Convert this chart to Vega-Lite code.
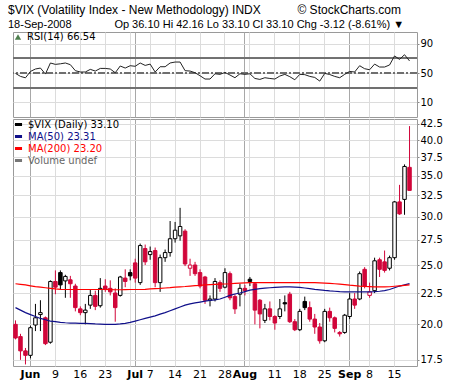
{
  "$schema": "https://vega.github.io/schema/vega-lite/v6.json",
  "padding": {"left": 8, "top": 3, "right": 2, "bottom": 0},
  "background": "white",
  "title": {
    "text": "$VIX (Volatility Index - New Methodology) INDX\u00a0\u00a0\u00a0\u00a0\u00a0\u00a0\u00a0\u00a0\u00a0\u00a0 © StockCharts.com",
    "subtitle": "18-Sep-2008\u00a0\u00a0\u00a0\u00a0\u00a0\u00a0\u00a0\u00a0\u00a0\u00a0\u00a0\u00a0\u00a0 Op 36.10 Hi 42.16 Lo 33.10 Cl 33.10 Chg -3.12 (-8.61%) ▼",
    "anchor": "start",
    "font": "Liberation Sans",
    "fontSize": 12,
    "fontWeight": "normal",
    "subtitleFont": "Liberation Sans",
    "subtitleFontSize": 11,
    "subtitleColor": "black",
    "subtitlePadding": 2,
    "offset": 1,
    "dx": -4
  },
  "data": {"values": [
    {"d":"2008-05-28","o":20.0,"h":20.3,"l":18.9,"c":19.0,"m50":21.3,"m200":23.3,"rsi":49.5},
    {"d":"2008-05-29","o":19.1,"h":19.3,"l":17.5,"c":18.1,"m50":21.1,"m200":23.25,"rsi":45.4},
    {"d":"2008-05-30","o":18.1,"h":18.3,"l":17.2,"c":17.8,"m50":20.9,"m200":23.2,"rsi":43.5},
    {"d":"2008-06-02","o":17.8,"h":19.9,"l":17.6,"c":19.75,"m50":20.75,"m200":23.12,"rsi":52.2},
    {"d":"2008-06-03","o":19.95,"h":21.6,"l":19.5,"c":20.5,"m50":20.6,"m200":23.05,"rsi":55.5},
    {"d":"2008-06-04","o":20.75,"h":21.9,"l":19.5,"c":20.9,"m50":20.45,"m200":23.0,"rsi":56.8},
    {"d":"2008-06-05","o":20.5,"h":20.6,"l":18.5,"c":18.6,"m50":20.35,"m200":22.95,"rsi":48.6},
    {"d":"2008-06-06","o":18.7,"h":23.6,"l":18.6,"c":23.5,"m50":20.25,"m200":22.9,"rsi":63.7},
    {"d":"2008-06-09","o":23.5,"h":24.5,"l":22.4,"c":23.0,"m50":20.2,"m200":22.85,"rsi":61.8},
    {"d":"2008-06-10","o":24.3,"h":24.5,"l":22.8,"c":23.2,"m50":20.15,"m200":22.82,"rsi":62.6},
    {"d":"2008-06-11","o":23.55,"h":24.1,"l":22.1,"c":23.95,"m50":20.12,"m200":22.8,"rsi":63.7},
    {"d":"2008-06-12","o":23.65,"h":24.0,"l":22.1,"c":23.3,"m50":20.1,"m200":22.8,"rsi":61.4},
    {"d":"2008-06-13","o":23.1,"h":23.3,"l":21.0,"c":21.3,"m50":20.1,"m200":22.8,"rsi":53.2},
    {"d":"2008-06-16","o":21.2,"h":21.4,"l":20.7,"c":20.9,"m50":20.08,"m200":22.8,"rsi":51.4},
    {"d":"2008-06-17","o":20.9,"h":21.6,"l":20.0,"c":21.1,"m50":20.07,"m200":22.8,"rsi":51.4},
    {"d":"2008-06-18","o":21.5,"h":22.8,"l":21.2,"c":22.3,"m50":20.05,"m200":22.8,"rsi":55.0},
    {"d":"2008-06-19","o":22.3,"h":22.7,"l":21.1,"c":21.4,"m50":20.03,"m200":22.8,"rsi":52.7},
    {"d":"2008-06-20","o":21.45,"h":23.8,"l":21.3,"c":22.9,"m50":20.02,"m200":22.8,"rsi":56.3},
    {"d":"2008-06-23","o":23.1,"h":23.7,"l":22.6,"c":22.8,"m50":20.0,"m200":22.8,"rsi":56.3},
    {"d":"2008-06-24","o":22.9,"h":23.6,"l":22.3,"c":22.6,"m50":20.0,"m200":22.79,"rsi":55.5},
    {"d":"2008-06-25","o":22.5,"h":22.9,"l":20.2,"c":21.3,"m50":20.0,"m200":22.78,"rsi":50.4},
    {"d":"2008-06-26","o":22.3,"h":24.0,"l":22.2,"c":23.9,"m50":20.03,"m200":22.78,"rsi":59.6},
    {"d":"2008-06-27","o":23.8,"h":24.6,"l":23.0,"c":23.5,"m50":20.08,"m200":22.79,"rsi":56.8},
    {"d":"2008-06-30","o":24.3,"h":24.6,"l":23.6,"c":24.0,"m50":20.15,"m200":22.8,"rsi":60.0},
    {"d":"2008-07-01","o":25.2,"h":25.6,"l":23.4,"c":23.8,"m50":20.25,"m200":22.8,"rsi":59.2},
    {"d":"2008-07-02","o":23.4,"h":27.1,"l":23.2,"c":26.9,"m50":20.35,"m200":22.8,"rsi":63.7},
    {"d":"2008-07-03","o":26.6,"h":27.0,"l":25.0,"c":25.3,"m50":20.45,"m200":22.82,"rsi":60.4},
    {"d":"2008-07-07","o":26.0,"h":26.8,"l":25.5,"c":26.3,"m50":20.55,"m200":22.85,"rsi":62.2},
    {"d":"2008-07-08","o":26.4,"h":26.7,"l":23.0,"c":23.4,"m50":20.65,"m200":22.88,"rsi":51.4},
    {"d":"2008-07-09","o":23.4,"h":26.0,"l":22.6,"c":25.7,"m50":20.78,"m200":22.9,"rsi":58.6},
    {"d":"2008-07-10","o":25.7,"h":26.5,"l":25.3,"c":26.2,"m50":20.9,"m200":22.93,"rsi":58.6},
    {"d":"2008-07-11","o":26.2,"h":29.5,"l":25.8,"c":27.6,"m50":21.05,"m200":22.96,"rsi":63.7},
    {"d":"2008-07-14","o":27.6,"h":29.4,"l":27.2,"c":28.5,"m50":21.2,"m200":23.0,"rsi":65.0},
    {"d":"2008-07-15","o":27.9,"h":31.0,"l":27.4,"c":28.9,"m50":21.35,"m200":23.03,"rsi":65.0},
    {"d":"2008-07-16","o":28.4,"h":28.6,"l":24.9,"c":25.1,"m50":21.5,"m200":23.06,"rsi":53.2},
    {"d":"2008-07-17","o":24.7,"h":25.6,"l":24.0,"c":25.0,"m50":21.6,"m200":23.1,"rsi":52.7},
    {"d":"2008-07-18","o":25.0,"h":25.3,"l":24.0,"c":24.2,"m50":21.68,"m200":23.13,"rsi":50.4},
    {"d":"2008-07-21","o":24.3,"h":24.6,"l":22.9,"c":23.1,"m50":21.75,"m200":23.16,"rsi":46.3},
    {"d":"2008-07-22","o":23.9,"h":24.0,"l":21.6,"c":21.9,"m50":21.82,"m200":23.2,"rsi":41.8},
    {"d":"2008-07-23","o":21.9,"h":22.3,"l":21.4,"c":22.0,"m50":21.88,"m200":23.22,"rsi":41.8},
    {"d":"2008-07-24","o":22.0,"h":23.8,"l":21.8,"c":23.5,"m50":21.93,"m200":23.24,"rsi":49.0},
    {"d":"2008-07-25","o":23.4,"h":23.6,"l":22.6,"c":22.9,"m50":22.0,"m200":23.26,"rsi":48.2},
    {"d":"2008-07-28","o":23.0,"h":24.7,"l":22.9,"c":24.3,"m50":22.15,"m200":23.28,"rsi":50.8},
    {"d":"2008-07-29","o":24.2,"h":24.4,"l":21.9,"c":22.1,"m50":22.3,"m200":23.3,"rsi":47.3},
    {"d":"2008-07-30","o":22.2,"h":22.4,"l":20.8,"c":21.2,"m50":22.42,"m200":23.33,"rsi":43.6},
    {"d":"2008-07-31","o":22.4,"h":23.3,"l":21.4,"c":22.9,"m50":22.5,"m200":23.36,"rsi":49.0},
    {"d":"2008-08-01","o":22.9,"h":23.2,"l":22.3,"c":22.7,"m50":22.62,"m200":23.38,"rsi":48.2},
    {"d":"2008-08-04","o":23.7,"h":23.9,"l":23.1,"c":23.5,"m50":22.75,"m200":23.4,"rsi":49.0},
    {"d":"2008-08-05","o":23.3,"h":23.4,"l":20.0,"c":21.1,"m50":22.82,"m200":23.4,"rsi":42.6},
    {"d":"2008-08-06","o":21.9,"h":22.0,"l":19.7,"c":20.8,"m50":22.88,"m200":23.4,"rsi":41.3},
    {"d":"2008-08-07","o":20.3,"h":21.6,"l":20.1,"c":21.2,"m50":22.92,"m200":23.4,"rsi":43.6},
    {"d":"2008-08-08","o":21.2,"h":21.8,"l":20.3,"c":20.6,"m50":22.95,"m200":23.4,"rsi":42.6},
    {"d":"2008-08-11","o":20.6,"h":20.7,"l":19.6,"c":20.1,"m50":22.98,"m200":23.4,"rsi":41.8},
    {"d":"2008-08-12","o":20.6,"h":22.0,"l":20.4,"c":21.2,"m50":23.0,"m200":23.4,"rsi":45.9},
    {"d":"2008-08-13","o":21.7,"h":22.3,"l":21.0,"c":21.6,"m50":23.02,"m200":23.4,"rsi":48.2},
    {"d":"2008-08-14","o":22.4,"h":22.6,"l":20.1,"c":20.2,"m50":23.02,"m200":23.4,"rsi":45.0},
    {"d":"2008-08-15","o":20.2,"h":20.4,"l":19.5,"c":19.6,"m50":23.0,"m200":23.4,"rsi":40.8},
    {"d":"2008-08-18","o":19.6,"h":21.2,"l":19.5,"c":21.0,"m50":22.98,"m200":23.4,"rsi":48.2},
    {"d":"2008-08-19","o":21.8,"h":22.2,"l":21.1,"c":21.3,"m50":22.93,"m200":23.4,"rsi":47.8},
    {"d":"2008-08-20","o":21.3,"h":21.8,"l":20.2,"c":20.4,"m50":22.88,"m200":23.4,"rsi":45.4},
    {"d":"2008-08-21","o":20.4,"h":20.8,"l":19.3,"c":19.8,"m50":22.82,"m200":23.4,"rsi":44.0},
    {"d":"2008-08-22","o":19.8,"h":20.1,"l":18.6,"c":18.8,"m50":22.77,"m200":23.38,"rsi":39.0},
    {"d":"2008-08-25","o":18.8,"h":21.2,"l":18.7,"c":21.0,"m50":22.72,"m200":23.36,"rsi":49.5},
    {"d":"2008-08-26","o":21.0,"h":21.3,"l":20.2,"c":20.5,"m50":22.68,"m200":23.33,"rsi":48.0},
    {"d":"2008-08-27","o":20.5,"h":20.6,"l":19.4,"c":19.7,"m50":22.65,"m200":23.3,"rsi":45.4},
    {"d":"2008-08-28","o":19.4,"h":19.5,"l":19.1,"c":19.3,"m50":22.62,"m200":23.27,"rsi":43.6},
    {"d":"2008-08-29","o":19.4,"h":20.8,"l":19.3,"c":20.7,"m50":22.6,"m200":23.23,"rsi":48.2},
    {"d":"2008-09-02","o":20.6,"h":22.5,"l":20.4,"c":22.0,"m50":22.6,"m200":23.18,"rsi":52.2},
    {"d":"2008-09-03","o":22.0,"h":22.5,"l":21.2,"c":21.5,"m50":22.6,"m200":23.14,"rsi":51.4},
    {"d":"2008-09-04","o":22.0,"h":24.4,"l":21.9,"c":24.2,"m50":22.6,"m200":23.1,"rsi":60.0},
    {"d":"2008-09-05","o":24.6,"h":24.8,"l":22.9,"c":23.1,"m50":22.6,"m200":23.07,"rsi":55.9},
    {"d":"2008-09-08","o":22.3,"h":23.4,"l":22.1,"c":22.6,"m50":22.6,"m200":23.05,"rsi":54.5},
    {"d":"2008-09-09","o":22.7,"h":25.7,"l":22.5,"c":25.4,"m50":22.62,"m200":23.03,"rsi":62.2},
    {"d":"2008-09-10","o":25.5,"h":25.7,"l":23.9,"c":24.6,"m50":22.65,"m200":23.02,"rsi":58.2},
    {"d":"2008-09-11","o":25.3,"h":26.4,"l":24.3,"c":24.5,"m50":22.7,"m200":23.02,"rsi":58.2},
    {"d":"2008-09-12","o":24.7,"h":25.9,"l":24.5,"c":25.7,"m50":22.8,"m200":23.04,"rsi":61.0},
    {"d":"2008-09-15","o":25.7,"h":31.8,"l":25.5,"c":31.7,"m50":22.95,"m200":23.08,"rsi":73.3},
    {"d":"2008-09-16","o":31.7,"h":33.8,"l":30.2,"c":30.3,"m50":23.1,"m200":23.12,"rsi":68.6},
    {"d":"2008-09-17","o":32.0,"h":36.5,"l":30.2,"c":36.22,"m50":23.2,"m200":23.16,"rsi":75.0},
    {"d":"2008-09-18","o":36.1,"h":42.16,"l":33.1,"c":33.1,"m50":23.31,"m200":23.2,"rsi":66.54}
  ]},
  "spacing": 0,
  "resolve": {"scale": {"x": "shared", "y": "independent", "color": "independent"}},
  "vconcat": [
    {
      "width": 404,
      "height": 85,
      "layer": [
        {"mark": {"type": "rule", "color": "#707070", "strokeWidth": 1}, "encoding": {"y": {"datum": 70, "type": "quantitative"}}},
        {"mark": {"type": "rule", "color": "#707070", "strokeWidth": 1}, "encoding": {"y": {"datum": 30, "type": "quantitative"}}},
        {"mark": {"type": "rule", "color": "#707070", "strokeWidth": 1, "strokeDash": [7, 2, 2, 2]}, "encoding": {"y": {"datum": 50, "type": "quantitative"}}},
        {
          "mark": {"type": "line", "color": "#222222", "strokeWidth": 1},
          "encoding": {
            "x": {
              "field": "d", "type": "ordinal",
              "scale": {"paddingInner": 0, "paddingOuter": 0.5, "align": 0},
              "axis": {
                "values": ["2008-06-02","2008-06-09","2008-06-16","2008-06-23","2008-06-30","2008-07-01","2008-07-07","2008-07-14","2008-07-21","2008-07-28","2008-08-01","2008-08-04","2008-08-11","2008-08-18","2008-08-25","2008-09-02","2008-09-08","2008-09-15"],
                "labels": false, "ticks": false, "domain": false, "title": null,
                "grid": true, "bandPosition": 0.5,
                "gridColor": {"condition": {"test": "indexof(['2008-06-02','2008-07-01','2008-08-01','2008-09-02'], datum.value) >= 0", "value": "#a8a8a8"}, "value": "#dcdcdc"}
              }
            },
            "y": {
              "field": "rsi", "type": "quantitative",
              "scale": {"domain": [-10, 106], "nice": false, "zero": false},
              "axis": {"orient": "right", "values": [10, 30, 50, 70, 90], "title": null, "grid": true, "gridColor": "#dcdcdc", "domain": false, "tickSize": 2, "tickColor": "#888888", "labelFontSize": 10, "labelPadding": 1}
            }
          }
        },
        {
          "mark": {"type": "point", "filled": true, "shape": "triangle-up", "opacity": 0},
          "encoding": {
            "x": {"field": "d", "type": "ordinal"},
            "y": {"field": "rsi", "type": "quantitative"},
            "color": {
              "datum": "RSI(14) 66.54",
              "scale": {"range": ["#4e7f4e"]},
              "legend": {"orient": "top-left", "title": null, "offset": 0, "padding": 0, "symbolType": "triangle-up", "symbolSize": 40, "symbolOpacity": 1, "labelFontSize": 10, "labelColor": "black"}
            }
          }
        }
      ]
    },
    {
      "width": 404,
      "height": 247,
      "transform": [{"window": [{"op": "lag", "field": "c", "as": "prev"}], "sort": [{"field": "d", "order": "ascending"}]}],
      "encoding": {
        "x": {
          "field": "d", "type": "ordinal",
          "axis": {
            "values": ["2008-06-02","2008-06-09","2008-06-16","2008-06-23","2008-06-30","2008-07-01","2008-07-07","2008-07-14","2008-07-21","2008-07-28","2008-08-01","2008-08-04","2008-08-11","2008-08-18","2008-08-25","2008-09-02","2008-09-08","2008-09-15"],
            "title": null, "ticks": false, "domain": false, "grid": true, "bandPosition": 0.5,
            "labelAngle": 0, "labelFontSize": 11, "labelPadding": 2,
            "labelExpr": "datum.value == '2008-06-30' || datum.value == '2008-08-04' ? '' : (indexof(['2008-06-02','2008-07-01','2008-08-01','2008-09-02'], datum.value) >= 0 ? utcFormat(toDate(datum.value), '%b') : '' + parseInt(substring(datum.value, 8, 10)))",
            "labelFontWeight": {"condition": {"test": "indexof(['2008-06-02','2008-07-01','2008-08-01','2008-09-02'], datum.value) >= 0", "value": "bold"}, "value": "normal"},
            "gridColor": {"condition": {"test": "indexof(['2008-06-02','2008-07-01','2008-08-01','2008-09-02'], datum.value) >= 0", "value": "#a8a8a8"}, "value": "#dcdcdc"}
          }
        }
      },
      "layer": [
        {
          "mark": {"type": "rule", "strokeWidth": 1},
          "encoding": {
            "y": {
              "field": "l", "type": "quantitative",
              "scale": {"type": "log", "domain": [17.1, 43.3], "nice": false, "zero": false},
              "axis": {"orient": "right", "values": [17.5, 20, 22.5, 25, 27.5, 30, 32.5, 35, 37.5, 40, 42.5], "format": ".1f", "title": null, "grid": true, "gridColor": "#dcdcdc", "domain": false, "tickSize": 2, "tickColor": "#888888", "labelFontSize": 10, "labelPadding": 1}
            },
            "y2": {"field": "h"},
            "color": {"condition": {"test": "datum.prev == null || datum.c < datum.prev", "value": "#d1063a"}, "value": "black"}
          }
        },
        {
          "mark": {"type": "bar", "width": {"band": 0.7}, "strokeWidth": 1},
          "encoding": {
            "y": {"field": "o", "type": "quantitative"},
            "y2": {"field": "c"},
            "fill": {"condition": [{"test": "datum.c >= datum.o", "value": "white"}, {"test": "datum.prev == null || datum.c < datum.prev", "value": "#d1063a"}], "value": "black"},
            "stroke": {"condition": {"test": "datum.prev == null || datum.c < datum.prev", "value": "#d1063a"}, "value": "black"}
          }
        },
        {
          "mark": {"type": "line", "strokeWidth": 1.2},
          "encoding": {
            "y": {"field": "m50", "type": "quantitative"},
            "color": {
              "datum": "m50",
              "scale": {"domain": ["vix", "m50", "m200", "vol"], "range": ["black", "#10108a", "#ff0000", "#777777"]},
              "legend": {
                "orient": "top-left", "title": null, "offset": 0, "padding": 0, "rowPadding": -3,
                "symbolType": "stroke", "symbolStrokeWidth": 3, "symbolSize": 50,
                "labelFontSize": 10,
                "labelExpr": "datum.value == 'vix' ? '$VIX (Daily) 33.10' : datum.value == 'm50' ? 'MA(50) 23.31' : datum.value == 'm200' ? 'MA(200) 23.20' : 'Volume undef'",
                "labelColor": {"expr": "datum.value == 'm50' ? '#10108a' : datum.value == 'm200' ? '#ff0000' : datum.value == 'vol' ? '#666666' : 'black'"}
              }
            }
          }
        },
        {
          "mark": {"type": "line", "strokeWidth": 1.2},
          "encoding": {
            "y": {"field": "m200", "type": "quantitative"},
            "color": {"datum": "m200"}
          }
        }
      ]
    }
  ],
  "config": {
    "font": "DejaVu Sans",
    "view": {"stroke": "#9a9a9a"},
    "axis": {"labelColor": "black", "labelFont": "DejaVu Sans"},
    "legend": {"labelFont": "DejaVu Sans"}
  }
}
